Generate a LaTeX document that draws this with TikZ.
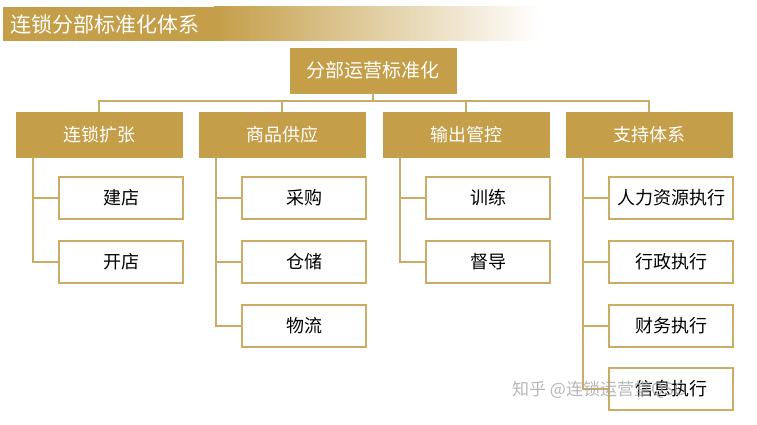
\documentclass[tikz,border=0pt]{standalone}
\usepackage{fontspec}
\setmainfont{Noto Sans CJK SC}
\usetikzlibrary{positioning}
\definecolor{gold}{RGB}{196,158,72}
\definecolor{goldline}{RGB}{204,171,100}
\tikzset{
  rootbox/.style={fill=gold, draw=gold, text=white, minimum width=166pt, minimum height=45pt, font=\fontsize{19}{22}\selectfont, inner sep=0pt},
  headbox/.style={fill=gold, draw=gold, text=white, minimum width=166pt, minimum height=45pt, font=\fontsize{18}{22}\selectfont, inner sep=0pt},
  leafbox/.style={fill=white, draw=goldline, line width=2pt, text=black, minimum width=124pt, minimum height=42pt, font=\fontsize{18}{22}\selectfont, inner sep=0pt},
  conn/.style={draw=goldline, line width=2pt}
}
\begin{document}
\begin{tikzpicture}[x=1pt,y=-1pt]
\useasboundingbox (0,0) rectangle (757,425);
% title banner
\fill[gold] (3,7) rectangle (215,41);
\shade[left color=gold, right color=white] (214,7) rectangle (540,41);
\node[anchor=west, text=white, font=\fontsize{21}{24}\selectfont, inner sep=0pt] (title) at (10,24) {连锁分部标准化体系};
% root
\node[rootbox] (root) at (373,70.5) {分部运营标准化};
% heads
\node[headbox] (c1) at (99,134.5) {连锁扩张};
\node[headbox] (c2) at (282,134.5) {商品供应};
\node[headbox] (c3) at (466,134.5) {输出管控};
\node[headbox] (c4) at (649,134.5) {支持体系};
\coordinate (bus) at (373,101);
\draw[conn] (root.south) -- (bus);
\foreach \c in {c1,c2,c3,c4}{\draw[conn] (\c.north) |- (bus);}
% leaves col 1
\node[leafbox] (a1) at (121,197.5) {建店};
\node[leafbox] (a2) at (121,261.5) {开店};
% col 2
\node[leafbox] (b1) at (304,197.5) {采购};
\node[leafbox] (b2) at (304,261.5) {仓储};
\node[leafbox] (b3) at (304,325.5) {物流};
% col 3
\node[leafbox] (d1) at (488,197.5) {训练};
\node[leafbox] (d2) at (488,261.5) {督导};
% col 4
\node[leafbox] (e1) at (671,197.5) {人力资源执行};
\node[leafbox] (e2) at (671,261.5) {行政执行};
\node[leafbox] (e3) at (671,325.5) {财务执行};
\node[leafbox] (e4) at (671,389) {信息执行};
% connectors
\foreach \p/\kids in {c1/{a1,a2}, c2/{b1,b2,b3}, c3/{d1,d2}, c4/{e1,e2,e3,e4}}{
  \foreach \k in \kids {\draw[conn] ([xshift=17pt]\p.south west) |- (\k.west);}
}
% watermark
\node[text=black!35, font=\fontsize{17}{20}\selectfont, anchor=west, inner sep=0pt, opacity=0.8] (wm) at (512,390) {知乎 @连锁运营堂QSC};
\end{tikzpicture}
\end{document}
